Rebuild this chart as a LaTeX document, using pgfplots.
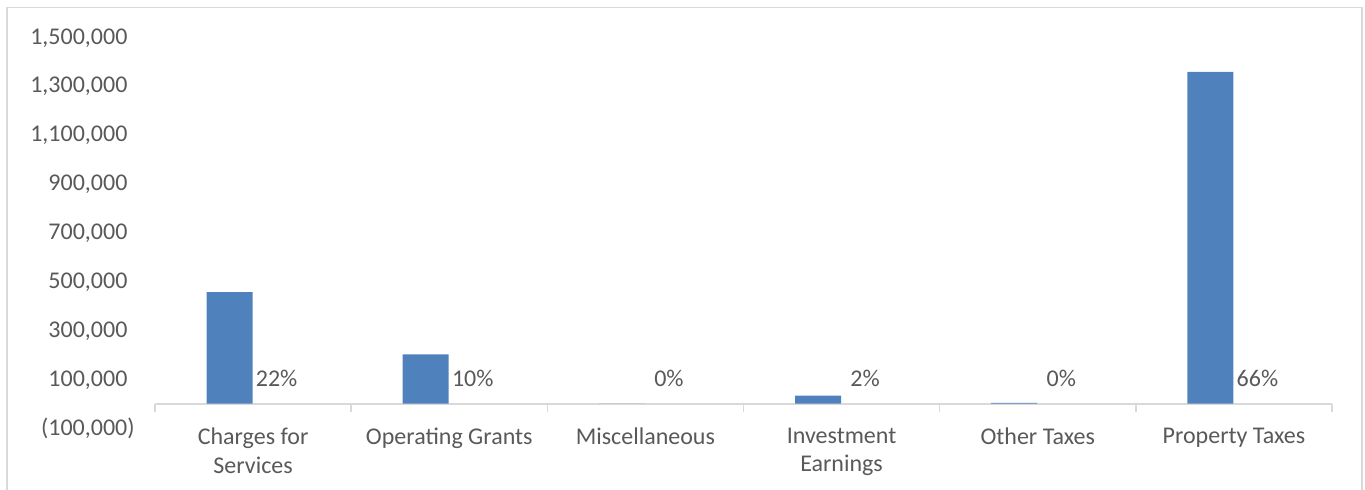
\documentclass[border=0pt]{standalone}
\usepackage{pgfplots}
\pgfplotsset{compat=1.18}
\usepackage{fontspec}
\setmainfont{Carlito}
\definecolor{barblue}{HTML}{4F81BD}
\definecolor{txt}{HTML}{595959}
\definecolor{axgray}{HTML}{D9D9D9}
\begin{document}
\begin{tikzpicture}[x=1pt,y=1pt]
\useasboundingbox (0,0) rectangle (682.5,244.5);
\begin{scope}
\clip (0,0) rectangle (682.5,244.5);
\draw[axgray, line width=0.8pt] (3.5,-10) -- (3.5,240.75) -- (681,240.75) -- (681,-10);
\end{scope}
\begin{axis}[
  at={(77.5pt,30.5pt)}, anchor=south west,
  scale only axis, width=588.5pt, height=195.5pt,
  xmin=-0.5, xmax=5.5, ymin=-100000, ymax=1500000,
  scaled y ticks=false,
  axis x line=middle, axis y line=left,
  x axis line style={-, draw=axgray, line width=1pt},
  y axis line style={draw=none},
  xtick={0,1,2,3,4,5},
  xticklabels={{Charges for\\Services},{Operating Grants},{Miscellaneous},{Investment\\Earnings},{Other Taxes},{Property Taxes}},
  minor xtick={-0.5,0.5,1.5,2.5,3.5,4.5,5.5},
  xtick align=outside,
  major x tick style={draw=none},
  minor x tick style={draw=axgray, line width=0.8pt},
  minor tick length=4pt,
  ytick={-100000,100000,300000,500000,700000,900000,1100000,1300000,1500000},
  yticklabels={{(100,000)},{100,000\phantom{)}},{300,000\phantom{)}},{500,000\phantom{)}},{700,000\phantom{)}},{900,000\phantom{)}},{1,100,000\phantom{)}},{1,300,000\phantom{)}},{1,500,000\phantom{)}}},
  major y tick style={draw=none},
  xticklabel style={font=\fontsize{12}{14.2}\selectfont, text=txt, align=center, anchor=north, yshift=-4.5pt},
  yticklabel style={font=\fontsize{12}{14.2}\selectfont, text=txt, anchor=east, xshift=-4.5pt},
  every node near coord/.append style={font=\fontsize{12}{14.2}\selectfont, text=txt, anchor=base, yshift=8.5pt, xshift=11.75pt},
  clip=false,
]
\addplot[ybar, bar width=23pt, bar shift=-11.75pt, fill=barblue, draw=none]
  coordinates {(0,456000) (1,201000) (2,0) (3,32000) (4,3000) (5,1357000)};
\addplot[ybar, bar width=23pt, bar shift=11.75pt, fill=none, draw=none,
  nodes near coords, point meta=explicit symbolic]
  coordinates {(0,0) [22\%] (1,0) [10\%] (2,0) [0\%] (3,0) [2\%] (4,0) [0\%] (5,0) [66\%]};
\end{axis}
\end{tikzpicture}
\end{document}
